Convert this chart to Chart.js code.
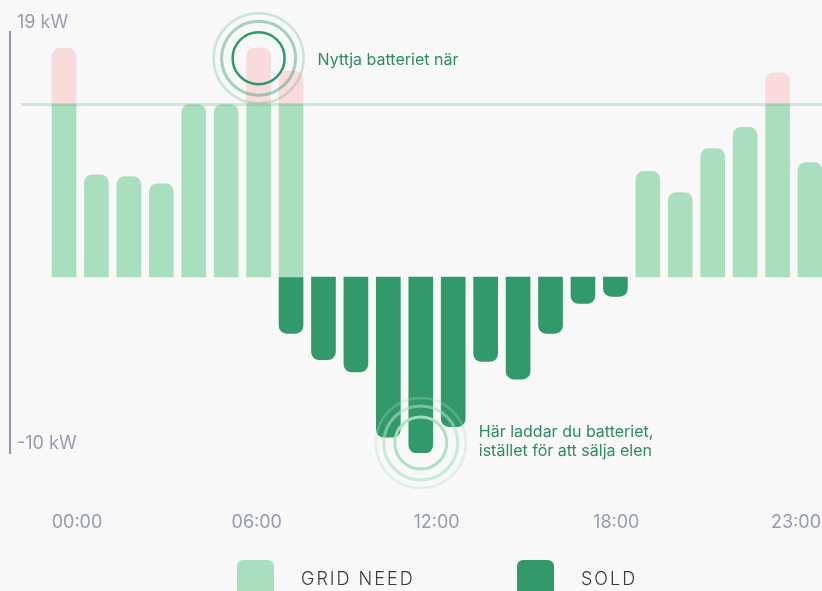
<!DOCTYPE html>
<html>
<head>
<meta charset="utf-8">
<script src="https://cdn.jsdelivr.net/npm/chart.js@4.4.1/dist/chart.umd.min.js"></script>
<style>
  html, body { margin: 0; padding: 0; background: #f8f8f8; overflow: hidden; }
  canvas { display: block; }
</style>
</head>
<body>
<canvas id="c" width="822" height="591"></canvas>
<script>
// ---- data ----
const hours = [0, 1, 2, 3, 4, 5, 6, 7, 8, 9, 10, 11, 12, 13, 14, 15, 16, 17, 18, 19, 20, 21, 22, 23];
const gridNeed = [13.0, 5.8, 5.7, 5.3, 9.8, 9.8, 13.0, 11.7, 0, 0, 0, 0, 0, 0, 0, 0, 0, 0, 6.0, 4.8, 7.3, 8.5, 11.6, 6.5];
const sold = [0, 0, 0, 0, 0, 0, 0, -3.2, -4.7, -5.4, -9.1, -10.0, -8.5, -4.8, -5.8, -3.2, -1.5, -1.1, 0, 0, 0, 0, 0, 0];
const threshold = 9.8;
const yMin = -10;
const yMax = 13.92;
const yTickLabels = ['19 kW', '-10 kW'];
const xTickLabels = ['00:00', '06:00', '12:00', '18:00', '23:00'];
const legendLabels = ['GRID NEED', 'SOLD'];
const noteTop = ['Nyttja batteriet när'];
const noteBottom = ['Här laddar du batteriet,', 'istället för att sälja elen'];
const peakHour = 6;
const chargeHour = 11;

// ---- colours ----
const LIGHT = '#a9dfbf';
const DARK = '#31996a';
const PINK = '#fadbdd';
const TEXTGREEN = '#2e8b5f';
const AXIS = '#9097ae';

const needCapped = hours.map((h, i) => ({ x: h, y: gridNeed[i] > 0 ? Math.min(gridNeed[i], threshold) : null }));
const needExcess = hours.map((h, i) => ({ x: h, y: gridNeed[i] > threshold ? gridNeed[i] - threshold : null }));
const soldData = hours.map((h, i) => ({ x: h, y: sold[i] < 0 ? sold[i] : null }));

const FONT = 'Inter, "Noto Sans", sans-serif';

const decoPlugin = {
  id: 'deco',
  afterDatasetsDraw(chart) {
    const ctx = chart.ctx;
    const y = chart.scales.y;
    const area = chart.chartArea;
    const ty = y.getPixelForValue(threshold);
    ctx.save();
    ctx.strokeStyle = 'rgba(49,153,106,0.2)';
    ctx.lineWidth = 3;
    ctx.beginPath();
    ctx.moveTo(area.left + 11, ty);
    ctx.lineTo(area.right, ty);
    ctx.stroke();

    const ring = (cx, cy, r, color, w) => {
      ctx.strokeStyle = color; ctx.lineWidth = w;
      ctx.beginPath(); ctx.arc(cx, cy, r, 0, Math.PI * 2); ctx.stroke();
    };
    const topBar = chart.getDatasetMeta(1).data[peakHour];
    const cx1 = topBar.x, cy1 = topBar.y + 10;
    ring(cx1, cy1, 45, 'rgba(46,154,104,0.22)', 2.5);
    ring(cx1, cy1, 37, 'rgba(46,154,104,0.42)', 3);
    ring(cx1, cy1, 26, 'rgba(46,154,104,1)', 2.5);
    ctx.fillStyle = TEXTGREEN;
    ctx.font = '16px ' + FONT;
    ctx.textAlign = 'left';
    ctx.textBaseline = 'middle';
    ctx.fillText(noteTop[0], cx1 + 59, cy1 + 2);

    const botBar = chart.getDatasetMeta(2).data[chargeHour];
    const cx2 = botBar.x, cy2 = botBar.y - 10;
    ring(cx2, cy2, 45, 'rgba(169,223,191,0.3)', 2.5);
    ring(cx2, cy2, 37, 'rgba(169,223,191,0.6)', 3);
    ring(cx2, cy2, 26, 'rgba(169,223,191,0.95)', 3);
    ctx.fillStyle = TEXTGREEN;
    ctx.fillText(noteBottom[0], cx2 + 58, cy2 - 11);
    ctx.fillText(noteBottom[1], cx2 + 58, cy2 + 8);
    ctx.restore();
  },
  afterDraw(chart) {
    const ctx = chart.ctx;
    const items = [
      { text: legendLabels[0], color: chart.data.datasets[0].backgroundColor },
      { text: legendLabels[1], color: chart.data.datasets[2].backgroundColor }
    ];
    ctx.save();
    const startX = 237, stepX = 280, boxTop = 560, boxW = 37;
    items.forEach((it, k) => {
      const bx = startX + k * stepX;
      ctx.fillStyle = it.color;
      ctx.beginPath();
      ctx.roundRect(bx, boxTop, boxW, boxW, 6);
      ctx.fill();
      ctx.fillStyle = '#3a3a3a';
      ctx.font = '300 18px ' + FONT;
      try { ctx.letterSpacing = '2px'; } catch (e) {}
      ctx.textAlign = 'left';
      ctx.textBaseline = 'middle';
      ctx.fillText(it.text, bx + 64, 580);
    });
    ctx.restore();
  }
};

const barCommon = { borderRadius: 8, borderSkipped: 'start', barThickness: 24 };
const zeroPad = (s) => { s.paddingLeft = 0; s.paddingRight = 0; s.paddingTop = 0; s.paddingBottom = 0; };

new Chart(document.getElementById('c'), {
  type: 'bar',
  data: {
    datasets: [
      Object.assign({ label: legendLabels[0], data: needCapped, backgroundColor: LIGHT }, barCommon),
      Object.assign({ label: 'excess', data: needExcess, backgroundColor: PINK }, barCommon),
      Object.assign({ label: legendLabels[1], data: soldData, backgroundColor: DARK }, barCommon)
    ]
  },
  options: {
    responsive: false,
    animation: false,
    devicePixelRatio: 1,
    layout: { padding: { top: 32, left: 10, right: 0, bottom: 58 } },
    plugins: { legend: { display: false }, tooltip: { enabled: false } },
    scales: {
      x: {
        type: 'linear',
        stacked: true,
        offset: false,
        min: -1.665,
        max: 23.37,
        display: false
      },
      xt: {
        type: 'linear',
        position: 'bottom',
        offset: false,
        min: -0.3727,
        max: 4.1446,
        grid: { display: false, drawTicks: false },
        border: { display: false },
        afterBuildTicks: (s) => { s.ticks = xTickLabels.map((_, i) => ({ value: i })); },
        afterFit: (s) => { s.height = 80; zeroPad(s); },
        ticks: {
          padding: 59,
          autoSkip: false,
          maxRotation: 0,
          color: '#979bb0',
          font: { family: FONT, size: 18 },
          callback: (v) => xTickLabels[v]
        }
      },
      y: {
        type: 'linear',
        stacked: true,
        min: yMin,
        max: yMax,
        grid: { display: false, drawTicks: false },
        border: { display: true, color: AXIS, width: 2 },
        afterBuildTicks: (s) => { s.ticks = [{ value: yMin }, { value: yMax }]; },
        afterFit: (s) => { s.width = 0; zeroPad(s); },
        ticks: {
          mirror: true,
          padding: 7,
          labelOffset: -9,
          color: '#979bb0',
          font: { family: FONT, size: 18 },
          callback: (v) => (v === yMax ? yTickLabels[0] : yTickLabels[1])
        }
      }
    }
  },
  plugins: [decoPlugin]
});
</script>
</body>
</html>
